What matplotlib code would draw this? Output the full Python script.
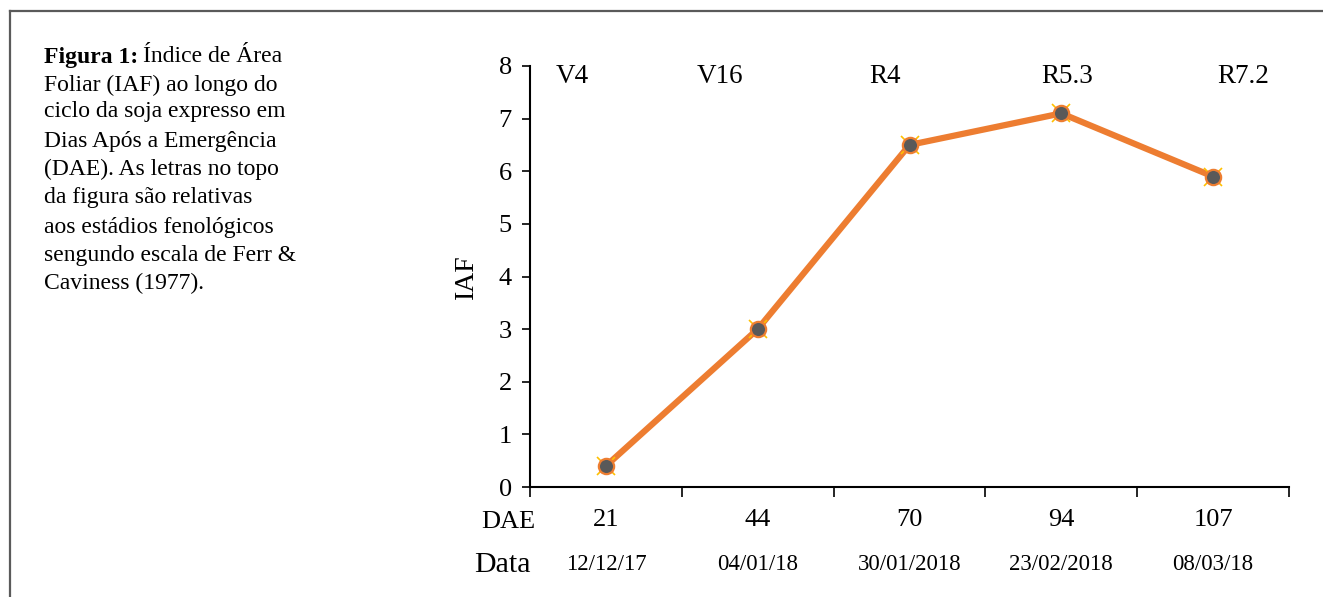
import matplotlib
matplotlib.use("Agg")
import matplotlib.pyplot as plt
from matplotlib.lines import Line2D
import numpy as np

dae = ["21", "44", "70", "94", "107"]
dates = ["12/12/17", "04/01/18", "30/01/2018", "23/02/2018", "08/03/18"]
iaf = [0.4, 3.0, 6.5, 7.1, 5.9]
stages = ["V4", "V16", "R4", "R5.3", "R7.2"]
stage_pos = [-0.22, 0.75, 1.84, 3.04, 4.20]

caption_lines = [
    "Foliar (IAF) ao longo do",
    "ciclo da soja expresso em",
    "Dias Após a Emergência",
    "(DAE). As letras no topo",
    "da figura são relativas",
    "aos estádios fenológicos",
    "sengundo escala de Ferr &",
    "Caviness (1977).",
]

serif = "Liberation Serif"
plt.rcParams["font.family"] = [serif, "DejaVu Serif"]

fig = plt.figure(figsize=(13.23, 5.97), dpi=100)
W, H = 1323, 597

# frame lines
fig.add_artist(Line2D([10 / W, 1.0], [1 - 11 / H, 1 - 11 / H], color="#5a5a5a", lw=1.6))
fig.add_artist(Line2D([10 / W, 10 / W], [1 - 11 / H, 0.0], color="#5a5a5a", lw=1.6))

ax = fig.add_axes([530 / W, 1 - 487 / H, (1289 - 530) / W, (487 - 66) / H])
x = np.arange(len(iaf))
ax.plot(x, iaf, color="#ED7D31", lw=4.5, zorder=2, solid_capstyle="round")
ax.plot(x, iaf, ls="none", marker="x", ms=13, mew=1.2, color="#FFC000", zorder=3)
ax.plot(x, iaf, ls="none", marker="o", ms=11, mfc="#595959", mec="#ED7D31", mew=1.6, zorder=4)

ax.set_xlim(-0.5, len(iaf) - 0.5)
ax.set_ylim(0, 8)
ax.set_yticks(range(0, 9))
ax.tick_params(axis="y", labelsize=19, length=6, width=1.2, pad=7, direction="out")
ax.set_xticks(np.arange(-0.5, len(iaf), 1.0))
ax.set_xticklabels([])
ax.tick_params(axis="x", which="major", length=7, width=1.2, direction="out")
ax.set_xticks(x, minor=True)
ax.set_xticklabels(dae, minor=True)
ax.tick_params(axis="x", which="minor", length=0, labelsize=19, pad=16)
for s in ["top", "right"]:
    ax.spines[s].set_visible(False)
for s in ["left", "bottom"]:
    ax.spines[s].set_linewidth(1.5)

ax.set_ylabel("IAF", fontsize=20, labelpad=14)

for p, s in zip(stage_pos, stages):
    ax.text(p, 7.8, s, ha="center", va="center", fontsize=19.5)

trans = ax.get_xaxis_transform()
ax.text(-0.5 - 0.029 * 5, -0.082, "DAE", transform=trans, ha="center", va="center", fontsize=19)
ax.text(-0.5 - 0.037 * 5, -0.185, "Data", transform=trans, ha="center", va="center", fontsize=21.5)
for i, d in enumerate(dates):
    ax.text(i, -0.185, d, transform=trans, ha="center", va="center", fontsize=16.5)

# caption
cap_size = 17
ys = [57, 85, 112, 141, 169, 198, 227, 255, 283]
t1 = fig.text(44 / W, 1 - ys[0] / H, "Figura 1:", fontsize=cap_size, fontweight="bold",
              ha="left", va="center")
fig.canvas.draw()
bb = t1.get_window_extent(renderer=fig.canvas.get_renderer())
fig.text((bb.x1 + 5) / W, 1 - ys[0] / H, "Índice de Área", fontsize=cap_size,
         ha="left", va="center")
for yy, line in zip(ys[1:], caption_lines):
    fig.text(44 / W, 1 - yy / H, line, fontsize=cap_size, ha="left", va="center")

fig.savefig("out.png", dpi=100)
